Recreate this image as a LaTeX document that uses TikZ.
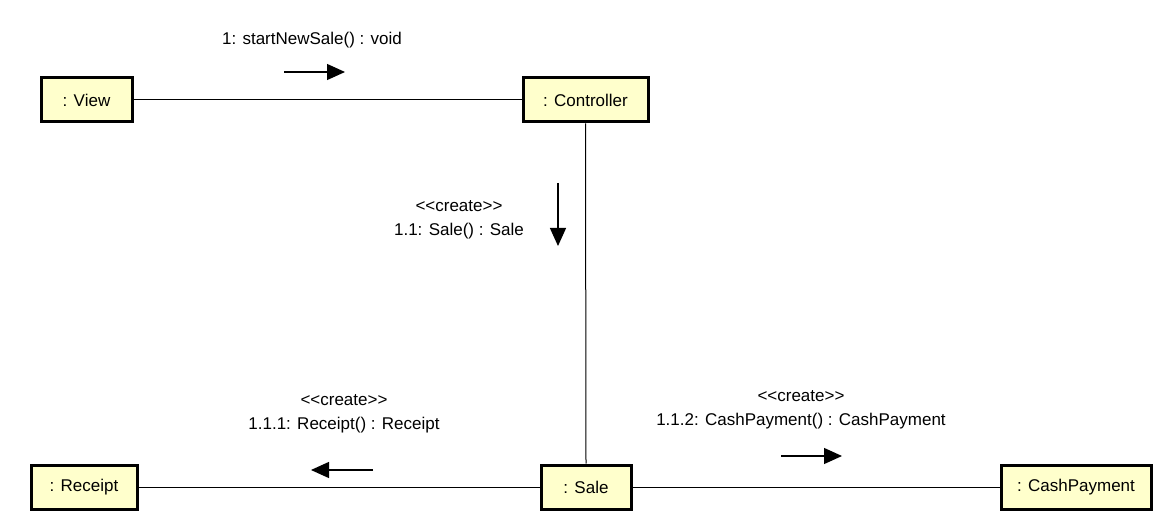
\documentclass[tikz,border=0pt]{standalone}
\usepackage{fontspec}
\setmainfont{Liberation Sans}
\usetikzlibrary{arrows.meta}
\definecolor{objfill}{RGB}{255,255,204}
\newcommand{\stereo}[1]{<\kern0pt<#1>\kern0pt>}
\tikzset{
  obj/.style={draw=black, line width=3pt, fill=objfill, minimum height=44pt, inner sep=0pt, font=\fontsize{17}{20}\selectfont},
  link/.style={draw=black, line width=1pt},
  msg/.style={draw=black, line width=1.3pt, -{Triangle[length=18pt,width=16pt]}},
  lbl/.style={align=center, font=\fontsize{17}{24.5}\selectfont, inner sep=0pt}
}
\begin{document}
\begin{tikzpicture}[x=1pt,y=-1pt]
\useasboundingbox (0,0) rectangle (1176,521);
\node[obj, minimum width=91pt] (view) at (86.5,100) {: View};
\node[obj, minimum width=125pt] (ctrl) at (585.5,100) {: Controller};
\node[obj, minimum width=106pt] (receipt) at (84,487) {: Receipt};
\node[obj, minimum width=90pt] (sale) at (586,487) {: Sale};
\node[obj, minimum width=150pt] (cash) at (1076,487) {: CashPayment};

\draw[link] (view.east) -- (ctrl.west);
\draw[link] (ctrl.south) -- (sale.north);
\draw[link] (receipt.east) -- (sale.west);
\draw[link] (sale.east) -- (cash.west);

% message 1
\node[lbl] (m1) at (312,40) {1: startNewSale() : void};
\coordinate (a1s) at (284,72);
\coordinate (a1e) at (345,72);
\draw[msg] (a1s) -- (a1e);

% message 1.1
\node[lbl] (m11) at (459,220) {\stereo{create}\\1.1: Sale() : Sale};
\coordinate (a2s) at (558,183);
\coordinate (a2e) at (558,246);
\draw[msg] (a2s) -- (a2e);

% message 1.1.1
\node[lbl] (m111) at (344,414) {\stereo{create}\\1.1.1: Receipt() : Receipt};
\coordinate (a3s) at (373,470);
\coordinate (a3e) at (311,470);
\draw[msg] (a3s) -- (a3e);

% message 1.1.2
\node[lbl] (m112) at (801,410) {\stereo{create}\\1.1.2: CashPayment() : CashPayment};
\coordinate (a4s) at (781,456);
\coordinate (a4e) at (842,456);
\draw[msg] (a4s) -- (a4e);
\end{tikzpicture}
\end{document}
